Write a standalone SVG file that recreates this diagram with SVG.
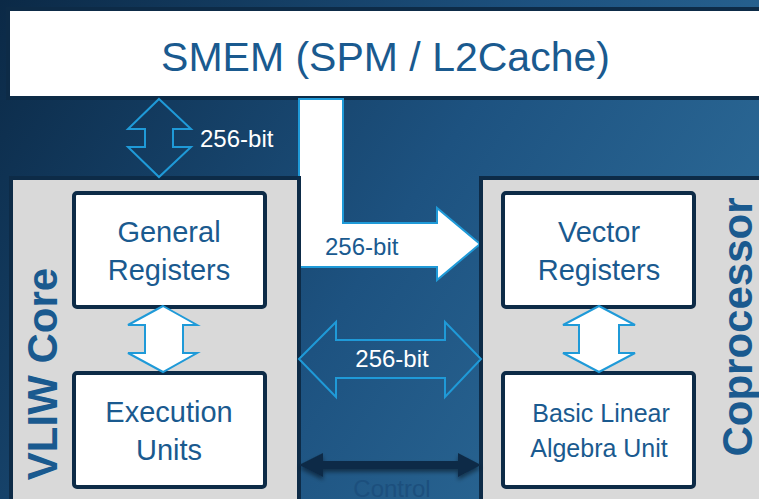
<svg xmlns="http://www.w3.org/2000/svg" width="759" height="499" viewBox="0 0 759 499">
  <defs>
    <linearGradient id="bg" x1="0" y1="0" x2="759" y2="499" gradientUnits="userSpaceOnUse">
      <stop offset="0" stop-color="#0b2946"/>
      <stop offset="0.5" stop-color="#1d5280"/>
      <stop offset="1" stop-color="#3273a0"/>
    </linearGradient>
    <filter id="shadow" x="-10%" y="-50%" width="120%" height="200%">
      <feDropShadow dx="0" dy="3" stdDeviation="2" flood-color="#000" flood-opacity="0.45"/>
    </filter>
    <style>
      .outer { fill: #d9d9d9; stroke: #0d2b47; stroke-width: 4; }
      .inner { fill: #ffffff; stroke: #0d2b47; stroke-width: 4; }
      .lbl { font-family: "Liberation Sans", Arial, sans-serif; fill: #1a5a8f; text-anchor: middle; }
      .title { font-family: "Liberation Sans", Arial, sans-serif; font-weight: bold; fill: #1a5a8f; font-size: 42px; text-anchor: middle; }
      .bw { font-family: "Liberation Sans", Arial, sans-serif; font-size: 24px; }
      .hollow { fill: none; stroke: #1f9ad8; stroke-width: 2; stroke-linejoin: miter; }
      .solid { fill: #ffffff; stroke: #1f9ad8; stroke-width: 2; stroke-linejoin: miter; }
    </style>
  </defs>

  <rect x="0" y="0" width="759" height="499" fill="url(#bg)"/>

  <g id="smem">
    <rect x="8" y="9" width="760" height="89" fill="#ffffff" stroke="#0d2b47" stroke-width="4"/>
    <text class="lbl" x="385.5" y="71" font-size="41">SMEM (SPM / L2Cache)</text>
  </g>

  <g id="connectors-top">
    <!-- L-shaped arrow from SMEM to coprocessor -->
    <path class="solid" d="M299,99 L343,99 L343,223 L437,223 L437,208 L480,244 L437,280 L437,267 L299,267 Z"/>
    <text class="bw" x="325" y="255" fill="#1a5a8f">256-bit</text>
  </g>

  <g id="vliw-core">
    <rect class="outer" x="11" y="178" width="288" height="330"/>
    <text class="title" transform="translate(57,374) rotate(-90)">VLIW Core</text>
  </g>

  <g id="coprocessor">
    <rect class="outer" x="481" y="178" width="290" height="330"/>
    <text class="title" transform="translate(752,327) rotate(-90)">Coprocessor</text>
  </g>

  <g id="general-registers">
    <rect class="inner" x="74" y="193" width="191" height="114" rx="3"/>
    <text class="lbl" x="169" y="242" font-size="29">General</text>
    <text class="lbl" x="169" y="280" font-size="29">Registers</text>
  </g>

  <g id="execution-units">
    <rect class="inner" x="74" y="373" width="191" height="114" rx="3"/>
    <text class="lbl" x="169" y="422" font-size="29">Execution</text>
    <text class="lbl" x="169" y="460" font-size="29">Units</text>
  </g>

  <g id="vector-registers">
    <rect class="inner" x="503" y="193" width="191" height="114" rx="3"/>
    <text class="lbl" x="599" y="242" font-size="29">Vector</text>
    <text class="lbl" x="599" y="280" font-size="29">Registers</text>
  </g>

  <g id="basic-linear-algebra-unit">
    <rect class="inner" x="503" y="373" width="191" height="114" rx="3"/>
    <text class="lbl" x="601" y="422" font-size="25">Basic Linear</text>
    <text class="lbl" x="599" y="457" font-size="25">Algebra Unit</text>
  </g>

  <g id="connectors">
    <!-- SMEM <-> VLIW core -->
    <path class="hollow" d="M159,99 L191,129 L173,129 L173,147 L191,147 L159,177 L128,147 L145,147 L145,129 L128,129 Z"/>
    <text class="bw" x="200" y="147" fill="#ffffff">256-bit</text>

    <!-- General Registers <-> Execution Units -->
    <path class="solid" d="M163,306 L197,325 L183,325 L183,353 L197,353 L163,372 L128,353 L145,353 L145,325 L128,325 Z"/>

    <!-- Vector Registers <-> BLAU -->
    <path class="solid" d="M599,306 L635,325 L619,325 L619,353 L635,353 L599,372 L563,353 L579,353 L579,325 L563,325 Z"/>

    <!-- VLIW <-> Coprocessor 256-bit -->
    <path class="hollow" d="M299,359 L336,322 L336,340 L445,340 L445,322 L481,359 L445,397 L445,378 L336,378 L336,397 Z"/>
    <text class="bw" x="392" y="367" fill="#ffffff" text-anchor="middle">256-bit</text>

    <!-- Control -->
    <path d="M299,465 L323,453 L323,461 L458,461 L458,453 L481,465 L458,477 L458,469 L323,469 L323,477 Z" fill="#0d2b47" filter="url(#shadow)"/>
    <text class="bw" x="392" y="497" fill="#1c4f7d" text-anchor="middle">Control</text>
  </g>
</svg>
